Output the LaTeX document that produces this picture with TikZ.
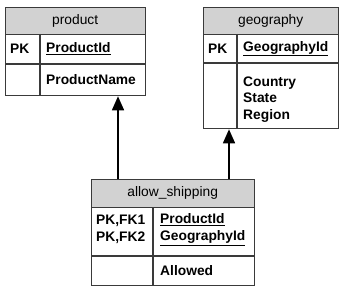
\documentclass[tikz,border=0pt]{standalone}
\usepackage{fontspec}
\setmainfont{Liberation Sans}
\usepackage{xcolor}
\definecolor{hdrGray}{HTML}{D2D2D2}
\definecolor{lineGray}{HTML}{3A3A3A}
\usetikzlibrary{arrows.meta}

\tikzset{
  tbl/.style={draw=lineGray, line width=1.3pt, rectangle, inner sep=0pt, anchor=north west},
  hdr/.style={fill=hdrGray, rectangle, inner sep=0pt, anchor=north west,
    font=\fontsize{13.8}{16.8}\selectfont},
  cell/.style={anchor=west, inner sep=0pt, align=left,
    font=\fontsize{13.8}{16.8}\selectfont\bfseries},
  sep/.style={draw=lineGray, line width=1.1pt},
  link/.style={-{Triangle[width=12pt,length=14pt]}, line width=1.6pt, black}
}

\begin{document}
\begin{tikzpicture}[x=1pt,y=-1pt]
  \useasboundingbox (0,0) rectangle (344,291);
  % ------- product -------
  \node[hdr, minimum width=140pt, minimum height=27pt] (product-h) at (5,7) {product};
  \node[tbl, minimum width=140pt, minimum height=88pt] (product) at (5,7) {};
  \draw[sep] (product-h.south west) -- (product-h.south east);
  \draw[sep] (5,64) -- (145,64);
  \draw[sep] (40,34) -- (40,95);
  \node[cell] (product-pk) at (10,49) {PK};
  \node[cell] (product-id) at (46,49) {\underline{ProductId}};
  \node[cell] (product-name) at (46,80) {ProductName};
  % ------- geography -------
  \node[hdr, minimum width=135pt, minimum height=27pt] (geo-h) at (203,7) {geography};
  \node[tbl, minimum width=135pt, minimum height=121pt] (geography) at (203,7) {};
  \draw[sep] (geo-h.south west) -- (geo-h.south east);
  \draw[sep] (203,63) -- (338,63);
  \draw[sep] (237,34) -- (237,128);
  \node[cell] (geo-pk) at (208,48.5) {PK};
  \node[cell] (geo-id) at (243,48.5) {\underline{GeographyId}};
  \node[cell] (geo-attr) at (243,99.5) {Country\\State\\Region};
  % ------- allow_shipping -------
  \node[hdr, minimum width=163pt, minimum height=28pt] (ship-h) at (91,179) {allow\_shipping};
  \node[tbl, minimum width=163pt, minimum height=106pt] (ship) at (91,179) {};
  \draw[sep] (ship-h.south west) -- (ship-h.south east);
  \draw[sep] (91,256) -- (254,256);
  \draw[sep] (153,207) -- (153,285);
  \node[cell] (ship-keys) at (96,229.5) {PK,FK1\\PK,FK2};
  \node[cell] (ship-ids) at (160,229.5) {\underline{ProductId}\\\underline{GeographyId}};
  \node[cell] (ship-allowed) at (160,270.5) {Allowed};
  % ------- relationships -------
  \draw[link] (ship.north -| 118,0) -- (product.south -| 118,0);
  \draw[link] (ship.north -| 229,0) -- (geography.south -| 229,0);
\end{tikzpicture}
\end{document}
